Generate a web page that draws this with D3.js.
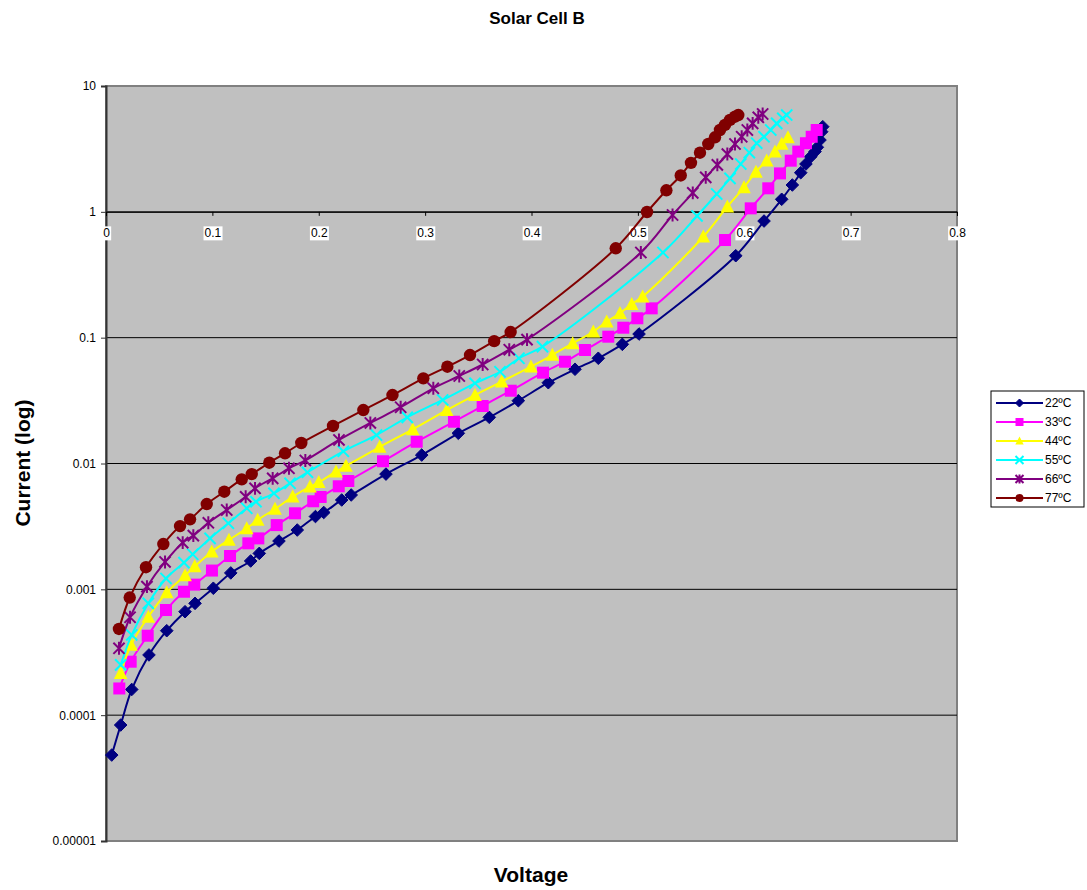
<!DOCTYPE html>
<html><head><meta charset="utf-8">
<script src="https://cdn.jsdelivr.net/npm/d3@7"></script>
<style>
html,body{margin:0;padding:0;background:#fff;}
svg{display:block;font-family:Arial,"Liberation Sans",sans-serif;}
</style></head>
<body>
<svg id="chart" width="1087" height="890"></svg>
<script>
const seriesNames = ["22ºC","33ºC","44ºC","55ºC","66ºC","77ºC"];
const v22 = [0.0054,0.0138,0.0242,0.0404,0.0571,0.0743,0.0837,0.1009,0.1173,0.1360,0.1441,0.1626,0.1798,0.1969,0.2047,0.2216,0.2305,0.2632,0.2968,0.3312,0.3603,0.3876,0.4158,0.4409,0.4628,0.4854,0.5011,0.5920,0.6186,0.6352,0.6452,0.6531,0.6580,0.6625,0.6665,0.6687,0.6712,0.6728,0.6738];
const i22 = [4.82e-5,8.35e-5,1.60e-4,3.01e-4,4.69e-4,6.64e-4,7.74e-4,1.02e-3,1.35e-3,1.68e-3,1.93e-3,2.42e-3,2.96e-3,3.79e-3,4.08e-3,5.13e-3,5.62e-3,8.24e-3,0.01167,0.01738,0.02328,0.03155,0.04385,0.0561,0.0686,0.0885,0.1069,0.448,0.845,1.258,1.634,2.046,2.40,2.74,3.01,3.26,3.72,4.33,4.75];
const v33 = [0.0125,0.0232,0.0392,0.0564,0.0733,0.0830,0.0996,0.1166,0.1338,0.1432,0.1605,0.1777,0.1948,0.2018,0.2188,0.2278,0.2604,0.2921,0.3271,0.3541,0.3805,0.4108,0.4315,0.4503,0.4722,0.4863,0.4995,0.5130,0.5819,0.6061,0.6226,0.6336,0.6437,0.6508,0.6580,0.6634,0.6681];
const i33 = [1.63e-4,2.66e-4,4.28e-4,6.85e-4,9.57e-4,1.09e-3,1.41e-3,1.84e-3,2.32e-3,2.54e-3,3.24e-3,4.02e-3,5.01e-3,5.42e-3,6.59e-3,7.26e-3,0.01042,0.01489,0.02148,0.02864,0.03788,0.0527,0.0644,0.0798,0.1018,0.1200,0.1426,0.171,0.597,1.066,1.538,2.02,2.55,3.01,3.51,3.95,4.47];
const v44 = [0.0138,0.0235,0.0398,0.0571,0.0743,0.0834,0.0994,0.1156,0.1323,0.1426,0.1589,0.1755,0.1918,0.2000,0.2162,0.2256,0.2572,0.2883,0.3203,0.3469,0.3720,0.3995,0.4196,0.4387,0.4581,0.4707,0.4832,0.4942,0.5045,0.5615,0.5841,0.5998,0.6110,0.6211,0.6289,0.6352,0.6411];
const i44 = [2.16e-4,3.61e-4,6.05e-4,9.44e-4,1.29e-3,1.52e-3,1.99e-3,2.47e-3,3.05e-3,3.56e-3,4.35e-3,5.44e-3,6.54e-3,7.10e-3,8.61e-3,9.55e-3,0.01352,0.01870,0.0266,0.0350,0.0447,0.0588,0.0728,0.0902,0.1115,0.1340,0.1563,0.185,0.212,0.634,1.099,1.567,2.08,2.55,3.01,3.46,3.90];
const v55 = [0.0138,0.0242,0.0398,0.0564,0.0733,0.0815,0.0978,0.1150,0.1323,0.1410,0.1579,0.1730,0.1894,0.2231,0.2543,0.2832,0.3165,0.3469,0.3704,0.3882,0.4103,0.5236,0.5556,0.5741,0.5866,0.5967,0.6048,0.6117,0.6186,0.6249,0.6305,0.6362,0.6399];
const i55 = [2.51e-4,4.34e-4,7.74e-4,1.22e-3,1.63e-3,1.90e-3,2.54e-3,3.35e-3,4.41e-3,4.97e-3,5.80e-3,6.96e-3,8.51e-3,0.01250,0.01683,0.02328,0.0320,0.0434,0.0536,0.0686,0.0848,0.475,0.927,1.386,1.846,2.40,2.95,3.51,3.95,4.47,5.05,5.54,5.88];
const v66 = [0.0122,0.0226,0.0385,0.0555,0.0721,0.0821,0.0962,0.1135,0.1313,0.1401,0.1567,0.1720,0.1874,0.2190,0.2485,0.2770,0.3077,0.3321,0.3541,0.3791,0.3958,0.5028,0.5326,0.5516,0.5638,0.5747,0.5841,0.5913,0.5976,0.6029,0.6079,0.6132,0.6173];
const i66 = [3.40e-4,6.00e-4,1.05e-3,1.65e-3,2.35e-3,2.67e-3,3.38e-3,4.27e-3,5.44e-3,6.35e-3,7.62e-3,9.16e-3,0.01057,0.01538,0.0210,0.0280,0.0396,0.0496,0.0612,0.0802,0.0964,0.475,0.944,1.416,1.88,2.36,2.88,3.46,3.95,4.47,5.05,5.64,5.99];
const v77 = [0.0122,0.0223,0.0376,0.0539,0.0696,0.0790,0.0947,0.1112,0.1276,0.1370,0.1535,0.1683,0.1836,0.2134,0.2419,0.2693,0.2983,0.3209,0.3422,0.3649,0.3804,0.4792,0.5086,0.5268,0.5403,0.5499,0.5584,0.5662,0.5725,0.5772,0.5819,0.5866,0.5913,0.5944];
const i77 = [4.84e-4,8.61e-4,1.50e-3,2.29e-3,3.18e-3,3.60e-3,4.76e-3,5.97e-3,7.48e-3,8.24e-3,0.01014,0.01205,0.01455,0.01987,0.0266,0.0350,0.0475,0.0588,0.0728,0.0938,0.1109,0.513,0.997,1.483,1.945,2.45,2.95,3.46,3.91,4.47,4.90,5.37,5.70,5.88];
const xTicks = [0,0.1,0.2,0.3,0.4,0.5,0.6,0.7,0.8];
const xTickLabels = ["0","0.1","0.2","0.3","0.4","0.5","0.6","0.7","0.8"];
const yTicks = [1e-5,1e-4,1e-3,1e-2,1e-1,1,10];
const yTickLabels = ["0.00001","0.0001","0.001","0.01","0.1","1","10"];

const colors = ["#000080","#FF00FF","#FFFF00","#00FFFF","#800080","#800000"];
const shapes = ["diamond","square","triangle","x","star","circle"];
const volts = [v22,v33,v44,v55,v66,v77];
const amps = [i22,i33,i44,i55,i66,i77];

const svg = d3.select("#chart");
const L=106, R=957, T=86, B=841;
const x = d3.scaleLinear().domain([0,0.8]).range([L,R]);
const y = d3.scaleLog().domain([1e-5,10]).range([B,T]);
const FONT = "Arial,'Liberation Sans',sans-serif";

// plot area
svg.append("rect").attr("x",L).attr("y",T).attr("width",R-L).attr("height",B-T)
  .attr("fill","#C0C0C0").attr("stroke","#808080").attr("stroke-width",2);

// gridlines
svg.append("g").selectAll("line").data(yTicks.slice(1,-1)).join("line")
  .attr("x1",L).attr("x2",R).attr("y1",d=>y(d)).attr("y2",d=>y(d))
  .attr("stroke","#000").attr("stroke-width",1);

// y axis
const yAxis = svg.append("g").attr("transform",`translate(${L},0)`)
  .call(d3.axisLeft(y).tickValues(yTicks).tickFormat((d,i)=>yTickLabels[i]).tickSize(5).tickPadding(5));
yAxis.select(".domain").attr("stroke","#333").attr("stroke-width",2);
yAxis.selectAll(".tick line").attr("stroke","#333");
yAxis.selectAll("text").attr("font-size",12).attr("fill","#000").style("font-family",FONT);

// x axis crossing at 1
const xAxis = svg.append("g").attr("transform",`translate(0,${y(1)})`)
  .call(d3.axisBottom(x).tickValues(xTicks).tickFormat((d,i)=>xTickLabels[i]).tickSize(4).tickPadding(13));
xAxis.select(".domain").attr("stroke","#000").attr("stroke-width",1);
xAxis.selectAll(".tick line").attr("stroke","#000");
xAxis.selectAll("text").attr("font-size",12).attr("fill","#000").style("font-family",FONT);
xAxis.selectAll(".tick").each(function(){
  const g = d3.select(this), t = g.select("text");
  const bb = t.node().getBBox();
  g.insert("rect","text").attr("x",bb.x-1).attr("y",bb.y).attr("width",bb.width+2).attr("height",bb.height).attr("fill","#fff");
});

function marker(sel, shape, color, s){
  if(shape==="diamond"){
    sel.append("path").attr("d",`M0,${-s}L${s},0L0,${s}L${-s},0Z`).attr("fill",color).attr("stroke",color);
  } else if(shape==="square"){
    sel.append("rect").attr("x",-s).attr("y",-s).attr("width",2*s).attr("height",2*s).attr("fill",color);
  } else if(shape==="triangle"){
    sel.append("path").attr("d",`M0,${-s*1.1}L${s*1.05},${s*0.9}L${-s*1.05},${s*0.9}Z`).attr("fill",color);
  } else if(shape==="x"){
    sel.append("path").attr("d",`M${-s},${-s}L${s},${s}M${-s},${s}L${s},${-s}`).attr("stroke",color).attr("stroke-width",2).attr("fill","none");
  } else if(shape==="star"){
    sel.append("path").attr("d",`M${-s},${-s}L${s},${s}M${-s},${s}L${s},${-s}M0,${-s*1.15}L0,${s*1.15}`).attr("stroke",color).attr("stroke-width",2).attr("fill","none");
  } else {
    sel.append("circle").attr("r",s).attr("fill",color);
  }
}

const line = d3.line().x(d=>x(d[0])).y(d=>y(d[1])).curve(d3.curveCatmullRom.alpha(0.5));
const sizes = [6.3,6,6.5,5.6,5.6,6.2];
volts.forEach((vs,k)=>{
  const pts = vs.map((v,j)=>[v, amps[k][j]]);
  const g = svg.append("g");
  g.append("path").datum(pts).attr("d",line).attr("fill","none").attr("stroke",colors[k]).attr("stroke-width",2);
  pts.forEach(p=>{
    const m = g.append("g").attr("transform",`translate(${x(p[0])},${y(p[1])})`);
    marker(m, shapes[k], colors[k], sizes[k]);
  });
});

// titles
svg.append("text").attr("x",537).attr("y",24).attr("text-anchor","middle")
  .attr("font-size",17).attr("font-weight","bold").text("Solar Cell B");
svg.append("text").attr("x",531).attr("y",882).attr("text-anchor","middle")
  .attr("font-size",21).attr("font-weight","bold").text("Voltage");
svg.append("text").attr("transform","translate(30,463) rotate(-90)").attr("text-anchor","middle")
  .attr("font-size",21).attr("font-weight","bold").text("Current (log)");

// legend
const lg = svg.append("g");
lg.append("rect").attr("x",991).attr("y",391).attr("width",93).attr("height",116)
  .attr("fill","#fff").attr("stroke","#000").attr("stroke-width",1);
seriesNames.forEach((n,k)=>{
  const yy = 403 + k*19;
  lg.append("line").attr("x1",996).attr("x2",1043).attr("y1",yy).attr("y2",yy).attr("stroke",colors[k]).attr("stroke-width",2);
  const m = lg.append("g").attr("transform",`translate(1019.5,${yy})`);
  marker(m, shapes[k], colors[k], 4);
  lg.append("text").attr("x",1045).attr("y",yy+4).attr("font-size",12).text(n);
});
</script>
</body></html>
